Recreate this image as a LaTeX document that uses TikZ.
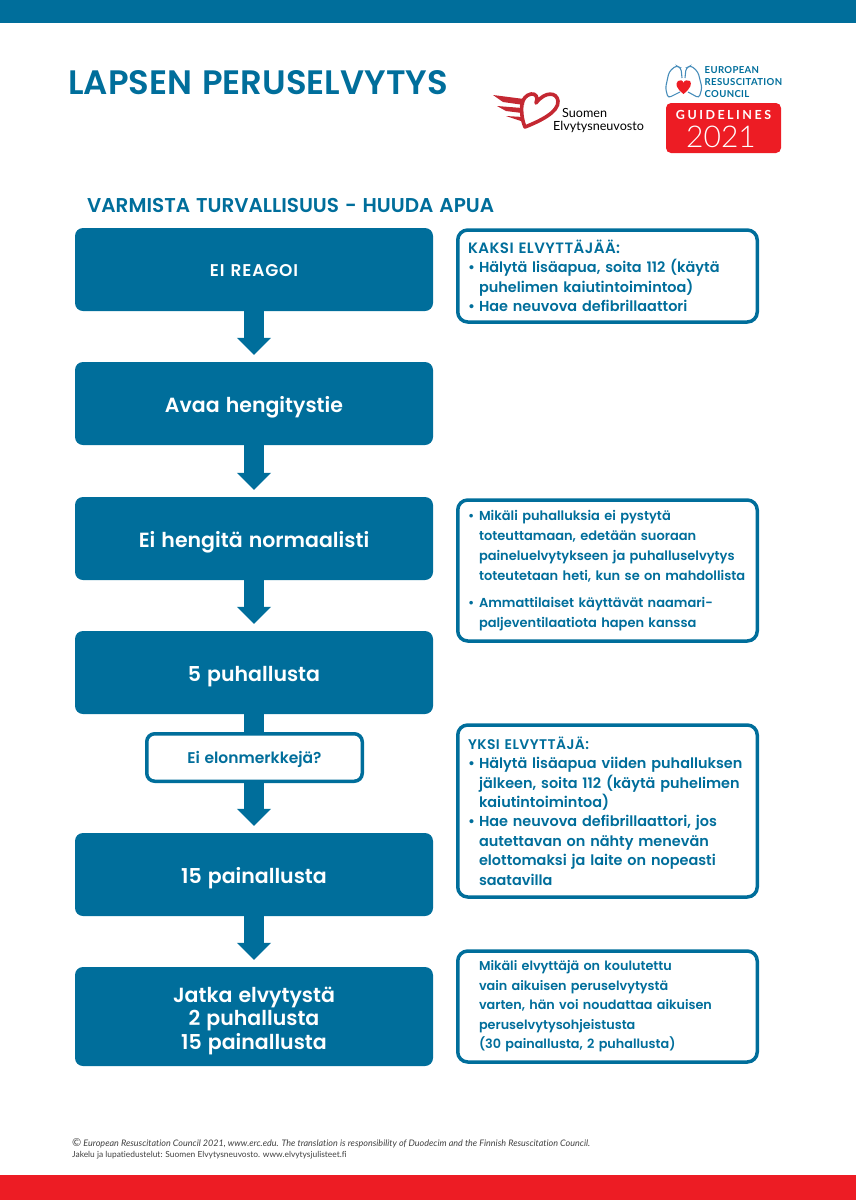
\documentclass[tikz,border=0pt]{standalone}
\usepackage{fontspec}
\setmainfont{Poppins}[BoldFont=Poppins SemiBold,WordSpace=1.25]
\newfontfamily\smallfont{Lato}[Ligatures=CommonOff]
\newfontfamily\thinfont{Lato Light}
\usetikzlibrary{positioning,arrows.meta}
\definecolor{ercblue}{RGB}{0,110,155}
\definecolor{ercred}{RGB}{237,28,36}
\definecolor{logored}{RGB}{196,40,50}
\definecolor{lungblue}{RGB}{70,140,185}
\newcommand{\bul}{\makebox[11pt][l]{•}}
\newcommand{\ind}{\hspace*{11pt}}
\newcommand{\dn}[1]{\raisebox{-4pt}[\height][\depth]{#1}}
\tikzset{
  flowbox/.style={fill=ercblue,rounded corners=8pt,minimum width=358pt,text=white,font=\bfseries\fontsize{20.5}{23.5}\selectfont,align=center,inner sep=0pt},
  notebox/.style={draw=ercblue,line width=3.5pt,fill=white,rounded corners=10pt,minimum width=299.5pt,text=ercblue,font=\bfseries\fontsize{14.45}{19.4}\selectfont,align=left,inner sep=0pt,text width=279pt},
  smallnote/.style={notebox,font=\bfseries\fontsize{13}{20}\selectfont},
  asklabel/.style={draw=ercblue,line width=3.5pt,fill=white,rounded corners=8pt,minimum width=215.5pt,minimum height=47.5pt,text=ercblue,font=\bfseries\fontsize{15.5}{18}\selectfont,inner sep=0pt},
  flowarrow/.style={ercblue,line width=20pt,-{Triangle[width=33pt,length=17pt]},shorten >=7pt},
  plainlabel/.style={inner sep=0pt,anchor=west}
}
\begin{document}
\begin{tikzpicture}[x=1pt,y=-1pt]
  \useasboundingbox (0,0) rectangle (856,1200);
  \fill[ercblue] (0,0) rectangle (856,23);
  \fill[ercred] (0,1175) rectangle (856,1200);

  \node[plainlabel,text=ercblue,font=\bfseries\fontsize{33.9}{36}\selectfont] (title) at (68,83) {LAPSEN PERUSELVYTYS};
  \node[plainlabel,text=ercblue,font=\bfseries\fontsize{20}{24}\selectfont] (safety) at (87,205) {VARMISTA TURVALLISUUS - HUUDA APUA};

  % logo of the Finnish council
  \draw[logored,line width=3.6pt,line join=round] (525,127) .. controls (540,121) and (559,112) .. (558,101) .. controls (557,92) and (545,91) .. (536,103) .. controls (539,97) and (535,93) .. (531,94) .. controls (526,95) and (523,99) .. (522,104) .. controls (521,111) and (522,120) .. (525,127) -- cycle;
  \fill[logored] (493,95) -- (524,99) -- (524,105) -- (503,102) -- cycle;
  \fill[logored] (497,106) -- (522,108) -- (522,113) -- (506,111) -- cycle;
  \fill[logored] (506,116) -- (523,117) -- (524,122) -- cycle;
  \node[plainlabel,font=\smallfont\fontsize{12.6}{13}\selectfont,align=left] (fincouncil) at (553,120.5) {\hspace*{9pt}Suomen\\Elvytysneuvosto};

  % logo of the European council
  \draw[lungblue,line width=1.1pt,rounded corners=3pt] (680,92) -- (668,98) -- (665.5,88) -- (669,72) -- (676,65.5) -- (681,68) -- (682,78);
  \draw[lungblue,line width=1.1pt,rounded corners=3pt] (688,92) -- (699,98) -- (702,88) -- (698,72) -- (691,65.5) -- (686,68) -- (685,78);
  \fill[ercred] (683.5,94) .. controls (676,88) and (675,84) .. (678,81) .. controls (680,79.5) and (683,80) .. (683.5,83) .. controls (684,80) and (688,79.5) .. (690,81) .. controls (692,84) and (691,88) .. (683.5,94) -- cycle;
  \node[plainlabel,text=ercblue,font=\smallfont\bfseries\fontsize{9.6}{12}\selectfont\addfontfeature{LetterSpace=3.5},align=left] (euro) at (704.5,82) {EUROPEAN\\RESUSCITATION\\COUNCIL};
  \fill[ercred,rounded corners=5pt] (666,103) rectangle (781,153);
  \node[inner sep=0pt,text=white,font=\smallfont\bfseries\fontsize{12.5}{14}\selectfont\addfontfeature{LetterSpace=20}] (guide) at (723.5,115) {GUIDELINES};
  \node[inner sep=0pt,text=white,font=\thinfont\fontsize{30}{34}\selectfont] (year) at (721,137) {2021};

  % main column
  \node[flowbox,minimum height=83pt,font=\bfseries\fontsize{17}{18}\selectfont\addfontfeature{LetterSpace=5}] (noreact) at (254,269.5) {\raisebox{-1pt}[\height][\depth]{EI REAGOI}};
  \node[flowbox,minimum height=83pt] (airway) at (254,403.5) {\dn{Avaa hengitystie}};
  \node[flowbox,minimum height=83pt] (nobreath) at (254,538.5) {\dn{Ei hengitä normaalisti}};
  \node[flowbox,minimum height=83pt] (five) at (254,672.5) {\dn{5 puhallusta}};
  \node[flowbox,minimum height=83pt] (fifteen) at (254,874.5) {\dn{15 painallusta}};
  \node[flowbox,minimum height=99pt] (keepon) at (254,1016.5) {\dn{Jatka elvytystä}\\\dn{2 puhallusta}\\\dn{15 painallusta}};

  \foreach \from/\to in {noreact/airway, airway/nobreath, nobreath/five, five/fifteen, fifteen/keepon}
    \draw[flowarrow] (\from) -- (\to.north);

  \node[asklabel] (signs) at (254.5,757.5) {\raisebox{-2pt}[\height][\depth]{Ei elonmerkkejä?}};

  % notes on the right
  \node[notebox,minimum height=92pt] (twohelp) at (607.5,276) {{\fontsize{15}{19.4}\selectfont\addfontfeature{LetterSpace=3}KAKSI ELVYTTÄJÄÄ:}\\\bul Hälytä lisäapua, soita 112 (käytä\\\ind puhelimen kaiutintoimintoa)\\\bul Hae neuvova defibrillaattori};
  \node[smallnote,minimum height=141pt] (noblow) at (607.5,570.5) {\bul Mikäli puhalluksia ei pystytä\\\ind toteuttamaan, edetään suoraan\\\ind paineluelvytykseen ja puhalluselvytys\\\ind toteutetaan heti, kun se on mahdollista\\[7pt]\bul Ammattilaiset käyttävät naamari-\\\ind paljeventilaatiota hapen kanssa};
  \node[notebox,minimum height=172pt] (onehelp) at (607.5,811) {{\fontsize{14}{19.4}\selectfont\addfontfeature{LetterSpace=3}YKSI ELVYTTÄJÄ:}\\\bul Hälytä lisäapua viiden puhalluksen\\\ind jälkeen, soita 112 (käytä puhelimen\\\ind kaiutintoimintoa)\\\bul Hae neuvova defibrillaattori, jos\\\ind autettavan on nähty menevän\\\ind elottomaksi ja laite on nopeasti\\\ind saatavilla};
  \node[notebox,font=\bfseries\fontsize{12.8}{19.5}\selectfont,minimum height=111pt] (adultguide) at (607.5,1006.5) {\ind Mikäli elvyttäjä on koulutettu\\\ind vain aikuisen peruselvytystä\\\ind varten, hän voi noudattaa aikuisen\\\ind peruselvytysohjeistusta\\\ind (30 painallusta, 2 puhallusta)};

  \node[plainlabel,text=black!75,font=\smallfont\fontsize{8.4}{10.8}\selectfont,align=left] (source) at (72,1149) {{\fontsize{11}{10}\selectfont\textcopyright}{} {\fontsize{9}{10}\selectfont\textit{European Resuscitation Council 2021, www.erc.edu. The translation is responsibility of Duodecim and the Finnish Resuscitation Council.}}\\Jakelu ja lupatiedustelut: Suomen Elvytysneuvosto. www.elvytysjulisteet.fi};
\end{tikzpicture}
\end{document}
